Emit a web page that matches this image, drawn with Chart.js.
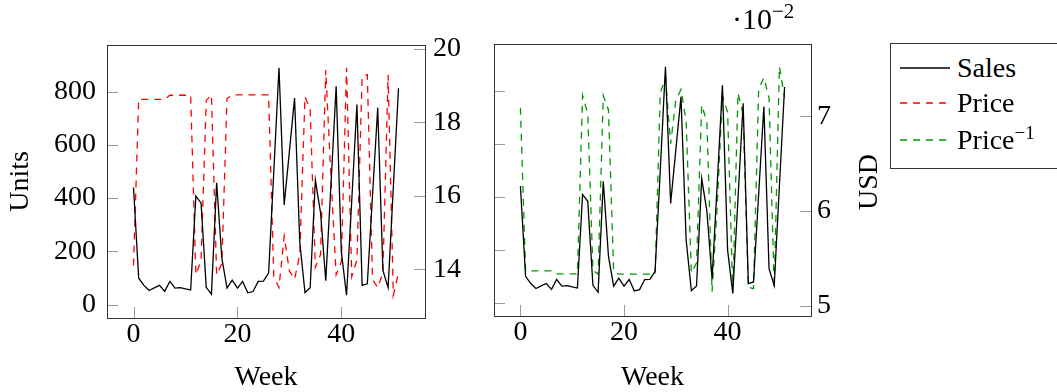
<!DOCTYPE html>
<html>
<head>
<meta charset="utf-8">
<script src="https://cdn.jsdelivr.net/npm/chart.js@4.4.1/dist/chart.umd.min.js"></script>
<style>
  body { margin: 0; background: #fff; width: 1057px; height: 392px; overflow: hidden; position: relative; font-family: "Liberation Serif", serif; }
  canvas { position: absolute; top: 0; }
  #left { left: 0; }
  #right { left: 470px; }
  #mult { position: absolute; left: 732px; top: 3px; font-size: 30px; line-height: 32px; }
  #mult sup { font-size: 21px; vertical-align: 11px; line-height: 0; }
  #usd { position: absolute; left: 868px; top: 182px; font-size: 28px; line-height: 30px; transform: translate(-50%, -50%) rotate(-90deg); white-space: nowrap; }
  #legend { position: absolute; left: 890px; top: 43px; width: 180px; height: 126px; border: 1px solid #333; box-sizing: border-box; font-size: 28px; }
  #legend .row { position: absolute; left: 9px; height: 30px; display: flex; align-items: center; }
  #legend svg { margin-right: 7px; }
  #legend sup { font-size: 19px; vertical-align: 10px; line-height: 0; }
</style>
</head>
<body>
<canvas id="left" width="470" height="392"></canvas>
<canvas id="right" width="420" height="392"></canvas>
<div id="mult">·10<sup>−2</sup></div>
<div id="usd">USD</div>
<div id="legend">
  <div class="row" style="top:9px"><svg width="50" height="6"><line x1="0" y1="3" x2="50" y2="3" stroke="#000" stroke-width="1.3"/></svg><span>Sales</span></div>
  <div class="row" style="top:44px"><svg width="50" height="6"><line x1="0" y1="3" x2="50" y2="3" stroke="#ff0000" stroke-width="1.3" stroke-dasharray="7 6"/></svg><span>Price</span></div>
  <div class="row" style="top:81px"><svg width="50" height="6"><line x1="0" y1="3" x2="50" y2="3" stroke="#009900" stroke-width="1.3" stroke-dasharray="7 6"/></svg><span>Price<sup>−1</sup></span></div>
</div>
<script>
// data
const weeks = [0, 1, 2, 3, 4, 5, 6, 7, 8, 9, 10, 11, 12, 13, 14, 15, 16, 17, 18, 19, 20, 21, 22, 23, 24, 25,
  26, 27, 28, 29, 30, 31, 32, 33, 34, 35, 36, 37, 38, 39, 40, 41, 42, 43, 44, 45, 46, 47, 48, 49, 50, 51];

const sales = [440, 99, 72, 53, 63, 72, 50, 87, 62, 64, 59, 55, 408, 382, 65, 39, 458, 175, 62, 92, 62, 87, 44, 49, 87, 88,
  118, 500, 890, 374, 575, 776, 235, 45, 63, 468, 345, 90, 450, 820, 198, 35, 390, 752, 72, 78, 410, 740, 128, 64, 440, 813];

const price = [14.1, 18.63, 18.63, 18.63, 18.63, 18.63, 18.63, 18.74, 18.74, 18.74, 18.74, 18.74, 13.85, 14.23, 18.6, 18.75,
  13.85, 14.15, 18.65, 18.75, 18.75, 18.75, 18.75, 18.75, 18.75, 18.75, 18.75, 13.8, 13.5, 14.9, 13.95, 13.73, 14.4, 18.7,
  18.35, 14.05, 14.4, 19.43, 16.5, 13.85, 14.2, 19.49, 13.8, 14.25, 19.25, 19.3, 13.72, 13.5, 13.9, 19.3, 13.29, 13.9];

const priceInv = [0.0709, 0.05368, 0.05368, 0.05368, 0.05368, 0.05368, 0.05368, 0.05336, 0.05336, 0.05336, 0.05336, 0.05336,
  0.0722, 0.07027, 0.05376, 0.05333, 0.0722, 0.07067, 0.05362, 0.05333, 0.05333, 0.05333, 0.05333, 0.05333, 0.05333, 0.05333,
  0.05333, 0.07246, 0.07407, 0.06711, 0.07168, 0.07283, 0.06944, 0.05348, 0.0545, 0.07117, 0.06944, 0.05147, 0.06061, 0.0722,
  0.07042, 0.05131, 0.07246, 0.07018, 0.05195, 0.05181, 0.07289, 0.07407, 0.07194, 0.05181, 0.07524, 0.07194];

const weekTicks = [0, 20, 40];
const unitTicks = [0, 200, 400, 600, 800];
const priceTicks = [14, 16, 18, 20];
const invTicks = [0.05, 0.06, 0.07];

const FONT = { family: "'Liberation Serif', serif", size: 28 };

// pgfplots-like 10% enlargement on each side
function limits(arr) {
  const lo = Math.min(...arr), hi = Math.max(...arr), r = hi - lo;
  return { min: lo - 0.1 * r, max: hi + 0.1 * r };
}

const pts = (ys) => weeks.map((w, i) => ({ x: w, y: ys[i] }));
const fixTicks = (list) => (scale) => { scale.ticks = list.map((v) => ({ value: v })); };

// frame + inward grey tick marks
const frame = {
  id: "frame",
  afterDatasetsDraw(chart) {
    const { ctx, chartArea: a } = chart;
    ctx.save();
    ctx.strokeStyle = "#9a9a9a";
    ctx.lineWidth = 1;
    for (const s of Object.values(chart.scales)) {
      for (const t of s.ticks) {
        const p = Math.round(s.getPixelForValue(t.value)) + 0.5;
        ctx.beginPath();
        if (s.axis === "x") { ctx.moveTo(p, a.bottom); ctx.lineTo(p, a.bottom - 11); }
        else if (s.position === "left") { ctx.moveTo(a.left, p); ctx.lineTo(a.left + 11, p); }
        else { ctx.moveTo(a.right, p); ctx.lineTo(a.right - 11, p); }
        ctx.stroke();
      }
    }
    ctx.strokeStyle = "#333";
    ctx.strokeRect(Math.round(a.left) + 0.5, Math.round(a.top) + 0.5, Math.round(a.width), Math.round(a.height));
    ctx.restore();
  },
};

const line = (label, ys, color, axis, dashed) => ({
  label: label,
  data: pts(ys),
  yAxisID: axis,
  borderColor: color,
  borderWidth: 1.3,
  borderDash: dashed ? [7, 6] : [],
  pointRadius: 0,
  tension: 0,
  fill: false,
});

const xScale = (h) => ({
  type: "linear",
  ...limits(weeks),
  afterBuildTicks: fixTicks(weekTicks),
  afterFit: (s) => { s.height = h; },
  grid: { display: false, drawTicks: false },
  border: { display: false },
  ticks: { color: "#000", font: FONT, padding: 0 },
  title: { display: true, text: "Week", color: "#000", font: FONT, padding: { top: 0, bottom: -2 } },
});

const common = {
  type: "line",
  plugins: [frame],
};

new Chart(document.getElementById("left"), {
  ...common,
  data: {
    datasets: [
      line("Sales", sales, "#000", "y", false),
      line("Price", price, "#ff0000", "y1", true),
    ],
  },
  options: {
    responsive: false,
    animation: false,
    layout: { padding: { top: 45, left: 0, right: 0, bottom: 0 } },
    plugins: { legend: { display: false }, tooltip: { enabled: false } },
    scales: {
      x: xScale(74),
      y: {
        position: "left",
        ...limits(sales),
        afterBuildTicks: fixTicks(unitTicks),
        afterFit: (s) => { s.width = 107; },
        grid: { display: false, drawTicks: false },
        border: { display: false },
        ticks: { color: "#000", font: FONT, padding: 11 },
        title: { display: true, text: "Units", color: "#000", font: FONT, padding: { top: 4, bottom: 0 } },
      },
      y1: {
        position: "right",
        ...limits(price),
        afterBuildTicks: fixTicks(priceTicks),
        afterFit: (s) => { s.width = 45; },
        grid: { display: false, drawTicks: false },
        border: { display: false },
        ticks: { color: "#000", font: FONT, padding: 8 },
      },
    },
  },
});

new Chart(document.getElementById("right"), {
  ...common,
  data: {
    datasets: [
      line("Sales", sales, "#000", "y", false),
      line("Price⁻¹", priceInv, "#009900", "y1", true),
    ],
  },
  options: {
    responsive: false,
    animation: false,
    layout: { padding: { top: 44, left: 0, right: 0, bottom: 0 } },
    plugins: { legend: { display: false }, tooltip: { enabled: false } },
    scales: {
      x: xScale(76),
      y: {
        position: "left",
        ...limits(sales),
        afterBuildTicks: fixTicks(unitTicks),
        afterFit: (s) => { s.width = 24; },
        grid: { display: false, drawTicks: false },
        border: { display: false },
        ticks: { display: false },
      },
      y1: {
        position: "right",
        ...limits(priceInv),
        afterBuildTicks: fixTicks(invTicks),
        afterFit: (s) => { s.width = 79; },
        grid: { display: false, drawTicks: false },
        border: { display: false },
        ticks: { color: "#000", font: FONT, padding: 6, callback: (v) => Math.round(v * 100) },
      },
    },
  },
});
</script>
</body>
</html>
